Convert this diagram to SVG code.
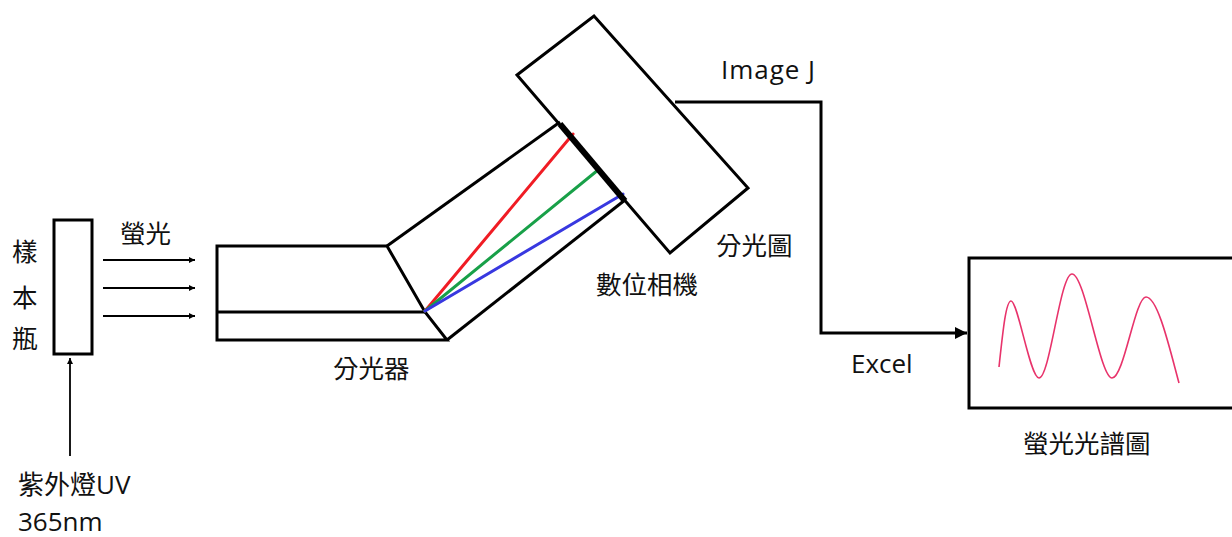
<svg xmlns="http://www.w3.org/2000/svg" width="1232" height="537" viewBox="0 0 1232 537">
  <defs>
    <style>
      .box { fill: none; stroke: #000; stroke-width: 3; stroke-linejoin: miter; }
      .wire { fill: none; stroke: #000; stroke-width: 3; }
      .thin { fill: none; stroke: #000; stroke-width: 1.8; }
      .lbl { font-family: "Open Sans", "Noto Sans CJK TC", sans-serif; font-size: 26px; fill: #111; }
      .cjk { font-family: "Noto Sans CJK TC", sans-serif; font-size: 25.5px; fill: #111; }
      .ray { fill: none; stroke-width: 3; stroke-linecap: round; }
    </style>
    <marker id="smallHead" viewBox="0 0 10 10" refX="10" refY="5" markerWidth="8" markerHeight="6" markerUnits="userSpaceOnUse" orient="auto">
      <path d="M0,0 L10,5 L0,10 Z" fill="#000"/>
    </marker>
    <marker id="bigHead" viewBox="0 0 10 10" refX="10" refY="5" markerWidth="12" markerHeight="12" markerUnits="userSpaceOnUse" orient="auto">
      <path d="M0,0 L10,5 L0,10 Z" fill="#000"/>
    </marker>
  </defs>

  <rect width="1232" height="537" fill="#fff"/>

  <!-- sample vial -->
  <g id="vial">
    <rect class="box" x="54" y="220" width="38" height="134"/>
    <text class="cjk" x="12" y="261" font-size="24">樣</text>
    <text class="cjk" x="12" y="307" font-size="24">本</text>
    <text class="cjk" x="12" y="348" font-size="24">瓶</text>
  </g>

  <!-- UV lamp label -->
  <g id="uv-lamp">
    <text class="lbl" x="18" y="494">紫外燈UV</text>
    <text class="lbl" x="18" y="531">365nm</text>
  </g>

  <!-- fluorescence label -->
  <g id="fluorescence">
    <text class="cjk" x="120" y="243">螢光</text>
  </g>

  <!-- spectrometer body -->
  <g id="spectrometer">
    <path class="box" d="M217,246 L387,246 L425,312 L447,340 L217,340 Z"/>
    <path class="box" d="M217,312 L425,312"/>
    <path class="box" d="M387,246 L560,122"/>
    <path class="box" d="M447,340 L625,200"/>
    <text class="cjk" x="333" y="378">分光器</text>
  </g>

  <!-- dispersed light -->
  <g id="rays">
    <path class="ray" stroke="#f01c24" d="M425,311 L573,134"/>
    <path class="ray" stroke="#18a048" d="M425,311 L598,170"/>
    <path class="ray" stroke="#3838e0" d="M425,311 L623,194"/>
  </g>

  <!-- digital camera -->
  <g id="camera">
    <path class="box" d="M517,75 L594,16 L748,188 L670,253 Z"/>
    <path fill="none" stroke="#000" stroke-width="6" d="M560,124 L625,201"/>
    <text class="cjk" x="716" y="255">分光圖</text>
    <text class="cjk" x="596" y="294">數位相機</text>
  </g>

  <!-- fluorescence spectrum chart -->
  <g id="spectrum">
    <path class="box" d="M1234,258 L969,258 L969,408 L1234,408"/>
    <path fill="none" stroke="#e8336b" stroke-width="1.6" d="M999,367 C1003,330 1006,301 1011,301 C1018,301 1030,378 1039,378 C1050,378 1060,274 1072,274 C1085,274 1100,378 1112,378 C1124,378 1135,297 1146,297 C1158,297 1170,350 1179,383"/>
    <text class="cjk" x="1023" y="453">螢光光譜圖</text>
  </g>

  <!-- connectors -->
  <g id="connectors">
    <path class="thin" d="M103,260 L195,260" marker-end="url(#smallHead)"/>
    <path class="thin" d="M103,288 L195,288" marker-end="url(#smallHead)"/>
    <path class="thin" d="M103,316 L195,316" marker-end="url(#smallHead)"/>
    <path class="thin" d="M70,456 L70,358" marker-end="url(#smallHead)"/>
    <path class="wire" d="M675,102 L821,102 L821,333 L967,333" marker-end="url(#bigHead)"/>
    <text class="lbl" x="721" y="79" textLength="94">Image J</text>
    <text class="lbl" x="851" y="373" font-size="27">Excel</text>
  </g>
</svg>
